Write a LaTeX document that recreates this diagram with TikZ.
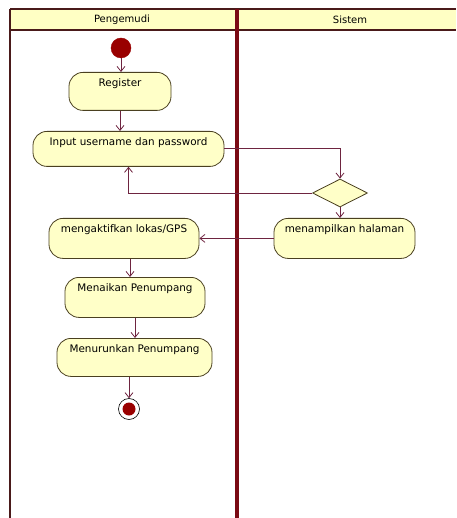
\documentclass[tikz,border=0pt]{standalone}
\usepackage{fontspec}
\setmainfont{DejaVu Sans}
\usetikzlibrary{arrows.meta,shapes.geometric}
\definecolor{lanered}{HTML}{7A0A14}
\definecolor{laneedge}{HTML}{4A1A1A}
\definecolor{headfill}{HTML}{FFFFC4}
\definecolor{actfill}{HTML}{FFFFC8}
\definecolor{actedge}{HTML}{4A4020}
\definecolor{flowcol}{HTML}{6E2440}
\definecolor{dotred}{HTML}{990000}
\tikzset{
  act/.style={draw=actedge, fill=actfill, line width=0.8pt, rounded corners=14pt,
    inner xsep=0pt, inner ysep=0pt, text height=14pt, text depth=24pt,
    font=\fontsize{10.4}{12}\selectfont, anchor=north},
  flow/.style={draw=flowcol, line width=0.8pt, -{Straight Barb[length=5pt,width=8pt]}},
  lanetext/.style={font=\fontsize{10}{12}\selectfont, text=black},
}
\begin{document}
\begin{tikzpicture}[x=1pt,y=-1pt]
\useasboundingbox (0,0) rectangle (456,518);
% swimlane header
\path[fill=headfill] (10,9) rectangle (456,30);
\draw[laneedge, line width=1.5pt] (10,9) -- (456,9);
\draw[laneedge, line width=1.3pt] (10,30) -- (456,30);
\draw[laneedge, line width=2pt] (10,9) -- (10,518);
\draw[lanered, line width=3.5pt] (237,9) -- (237,518);
\node[lanetext] (h1) at (122,20) {Pengemudi};
\node[lanetext] (h2) at (350,20) {Sistem};
% nodes
\node[circle, fill=dotred, draw=dotred, minimum size=20pt, inner sep=0pt] (start) at (121,48) {};
\node[act, minimum width=102pt] (reg) at (120,72) {Register};
\node[act, minimum width=191pt, text depth=21pt] (inp) at (128.5,131) {Input username dan password};
\node[diamond, aspect=2, draw=actedge, fill=actfill, line width=0.8pt, minimum width=55pt, minimum height=28pt, inner sep=0pt] (dec) at (340,193) {};
\node[act, minimum width=141pt, text depth=26pt] (tamp) at (344.5,218) {menampilkan halaman};
\node[act, minimum width=150pt, text depth=26pt] (akt) at (124,218) {mengaktifkan lokas/GPS};
\node[act, minimum width=140pt, text depth=26pt] (nai) at (135,277) {Menaikan Penumpang};
\node[act, minimum width=155pt] (tur) at (134.5,338) {Menurunkan Penumpang};
\node[circle, draw=black, fill=white, line width=0.6pt, minimum size=21pt, inner sep=0pt] (end) at (129,409) {};
\node[circle, fill=dotred, minimum size=13pt, inner sep=0pt] (endin) at (end) {};
% flows
\draw[flow] (start) -- (start |- reg.north);
\draw[flow] (reg.south) -- (reg.south |- inp.north);
\draw[flow] (inp.east) -| (dec.north);
\draw[flow] (dec.west) -| (inp.south);
\draw[flow] (dec.south) -- (dec.south |- tamp.north);
\draw[flow] (tamp.west) -- (akt.east);
\draw[flow] ([xshift=6pt]akt.south) -- ([xshift=6pt]akt.south |- nai.north);
\draw[flow] (nai.south) -- (nai.south |- tur.north);
\draw[flow] (tur.south -| end.north) -- (end.north);
\end{tikzpicture}
\end{document}
